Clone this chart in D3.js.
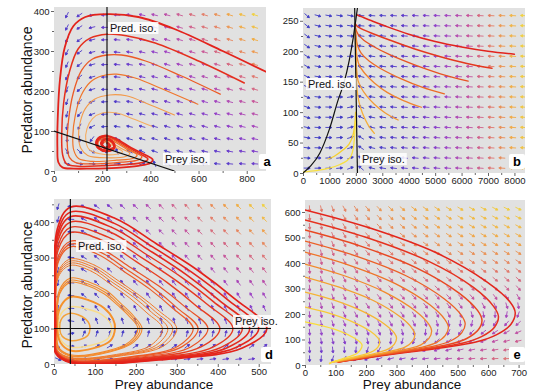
<!DOCTYPE html>
<html>
<head>
<meta charset="utf-8">
<script src="https://cdn.jsdelivr.net/npm/d3@7"></script>
<style>
  body { margin: 0; background: #fff; }
  text { font-family: "Liberation Sans", Arial, sans-serif; }
</style>
</head>
<body>
<svg id="chart" width="540" height="391"></svg>
<script>
// ---------- ticks ----------
const xTicksA = [0, 200, 400, 600, 800];
const yTicksA = [0, 100, 200, 300, 400];
const xTicksB = [0, 1000, 2000, 3000, 4000, 5000, 6000, 7000, 8000];
const yTicksB = [0, 50, 100, 150, 200, 250];
const xTicksD = [0, 100, 200, 300, 400, 500];
const yTicksD = [0, 100, 200, 300, 400];
const xTicksE = [0, 100, 200, 300, 400, 500, 600, 700];
const yTicksE = [0, 100, 200, 300, 400, 500, 600];

// ---------- model parameters for the direction fields ----------
const paramsA = [1, 500, 0.01, 0.003, 0.66];          // r, K, a, b, m
const paramsB = [1, 2060, 0.387, 0.02, 240, 1.9];      // r, K0, K slope, s, c, exponent
const paramsD = [1, 0.01, 0.01, 0.4];                  // r, a, b, m
const paramsE = [0.01, 0.175, 0.0029, 2.6];            // a, r, c, m

// ---------- isoclines ----------
const predIsoA = [[220, 0], [220, 410]];
const preyIsoA = [[0, 100], [500, 0]];
const predIsoB = [[0, 0], [300, 12], [640, 33], [1000, 72], [1330, 120], [1550, 148], [1750, 185], [1900, 222], [2000, 252], [2060, 271]];
const preyIsoB = [[2060, 0], [1955, 271]];
const predIsoD = [[40, 0], [40, 465]];
const preyIsoD = [[0, 100], [530, 100]];

// ---------- trajectories ----------
const trajA = [
  [[880,248],[700,300],[500,355],[350,385],[220,392],[130,385],[80,362],[45,310],[25,230],[16,140],[14,60],[18,22],[35,9],[80,6],[150,6],[260,8],[350,13],[400,20],[410,28],[380,40],[320,58],[260,80],[220,88],[185,82],[175,68],[190,55],[225,50],[250,58],[240,72],[215,75],[200,66],[215,58],[225,63]],
  [[790,220],[600,275],[420,320],[300,338],[220,342],[150,332],[100,305],[65,250],[40,170],[32,90],[36,40],[52,18],[100,12],[200,13],[300,16],[370,22],[390,30],[360,42],[300,62],[250,80],[215,86],[185,78],[180,62],[210,52],[245,58]],
  [[690,192],[520,240],[380,275],[280,290],[220,290],[160,280],[115,252],[80,195],[60,125],[55,68],[64,34],[90,21],[180,18],[280,22],[350,28],[365,36],[330,48],[280,66],[240,80],[205,82],[182,70],[195,54]],
  [[597,167],[450,205],[340,232],[260,242],[200,238],[150,222],[112,188],[88,138],[78,88],[82,52],[102,31],[160,24],[260,27],[330,32],[345,40],[310,52],[260,70],[225,80],[195,76]],
  [[500,140],[400,165],[300,188],[230,190],[170,180],[130,156],[108,120],[102,84],[112,56],[140,39],[220,33],[300,37],[315,44],[280,56],[240,70],[210,77]],
  [[406,112],[330,130],[260,145],[200,145],[160,131],[137,106],[132,77],[146,54],[190,43],[260,42],[285,48],[260,58],[230,68],[205,74]],
  [[220,88],[190,84],[176,70],[188,56],[222,50],[250,58],[244,72],[218,80],[196,70],[210,58],[232,62],[222,70]]
];
const trajAColor = ['#e3231c', '#e5301e', '#ec5a26', '#f0762c', '#f39a4a', '#f5ad62', '#e4261c'];
const trajAWidth = [1.8, 1.5, 1.3, 1.2, 1.1, 1.1, 2.6];

const trajB = [
  [[8000,195],[7000,200],[6000,207],[5000,216],[4000,228],[3200,240],[2600,250],[2200,257],[2030,260]],
  [[7150,172],[6200,180],[5200,191],[4200,204],[3300,218],[2700,228],[2300,235],[2050,241],[1980,245]],
  [[6250,151],[5200,163],[4200,178],[3300,194],[2700,207],[2300,218],[2080,228],[1990,238],[1975,244]],
  [[5350,130],[4500,141],[3700,155],[3000,170],[2500,184],[2200,197],[2060,210],[2000,228],[1978,242]],
  [[4480,108],[3800,119],[3200,132],[2700,148],[2350,163],[2120,178],[2030,195],[1990,225],[1980,240]],
  [[3600,87],[3100,99],[2700,113],[2400,127],[2200,140],[2080,152],[2030,170],[2000,200],[1982,235]],
  [[2700,65],[2450,80],[2250,98],[2110,118],[2040,140],[2010,170],[1990,210],[1980,235]],
  [[950,23],[1200,28],[1520,38],[1750,48],[1890,62],[1960,80],[1990,100]],
  [[0,2],[500,4],[1000,8],[1400,14],[1660,20],[1820,28],[1900,40],[1950,60],[1985,85]]
];
const trajBColor = ['#e2231d', '#e4381f', '#e85223', '#ec6a27', '#f08430', '#f39a36', '#f5ae3a', '#f6d030', '#f8e040'];

const loopsD = [
  [[40,143],[59,139],[76,128],[86,113],[88,100],[83,81],[64,69],[40,66],[20,78],[14,100],[20,130]],
  [[40,161],[80,155],[116,140],[136,118],[141,100],[131,71],[91,53],[40,48],[18,66],[10,100],[18,143]],
  [[40,189],[84,180],[122,158],[144,127],[149,100],[138,66],[95,44],[40,38],[16,60],[8,100],[16,162]],
  [[40,230],[81,221],[122,198],[156,165],[185,133],[205,100],[185,63],[131,37],[40,26],[11,48],[8,100],[14,198]],
  [[40,236],[82,226],[125,202],[159,168],[190,134],[210,100],[190,62],[134,35],[40,24],[10,47],[7,100],[14,202]],
  [[40,242],[84,232],[128,207],[163,171],[194,136],[215,100],[194,61],[136,34],[40,22],[9,45],[6,100],[13,207]],
  [[40,278],[92,261],[138,225],[185,186],[227,144],[265,100],[237,53],[153,27],[40,18],[8,40],[6,100],[11,246]],
  [[40,284],[95,267],[144,229],[194,189],[238,146],[278,100],[248,52],[159,26],[40,17],[8,39],[6,100],[11,251]],
  [[40,290],[98,272],[149,233],[202,192],[248,147],[290,100],[259,52],[165,25],[40,16],[7,39],[5,100],[11,256]],
  [[40,296],[100,278],[154,237],[208,194],[257,149],[300,100],[268,51],[170,24],[40,15],[7,38],[5,100],[11,261]],
  [[40,330],[109,308],[171,261],[234,211],[290,157],[340,100],[303,50],[190,21],[40,12],[7,36],[5,100],[11,289]],
  [[40,338],[112,316],[177,267],[242,215],[300,159],[352,100],[313,49],[196,20],[40,11],[7,35],[5,100],[11,295]],
  [[40,346],[117,323],[187,272],[257,219],[320,161],[376,100],[334,48],[208,19],[40,10],[6,34],[4,100],[10,302]],
  [[40,370],[124,345],[200,289],[276,230],[344,167],[405,100],[359,48],[223,18],[40,9],[6,34],[4,100],[10,321]],
  [[40,385],[131,358],[214,300],[296,237],[371,171],[437,100],[387,47],[239,18],[40,8],[6,33],[4,100],[10,334]],
  [[40,400],[137,372],[224,310],[311,245],[390,175],[460,100],[408,47],[250,17],[40,7],[5,32],[3,100],[9,346]],
  [[40,415],[141,385],[232,321],[323,252],[405,178],[478,100],[423,46],[259,16],[40,6],[5,31],[3,100],[9,358]],
  [[40,428],[146,397],[241,330],[337,258],[423,182],[500,100],[443,46],[270,15],[40,5],[5,31],[3,100],[9,369]],
  [[40,442],[150,410],[250,339],[350,265],[440,185],[520,100],[460,45],[280,14],[40,4],[4,30],[2,100],[8,380]]
];
const loopsDColor = ['#f3a23a', '#f8dc8c', '#f5922c', '#f38a2c', '#f38a2c', '#f38a2c', '#f07a2c', '#f07a2c', '#f07a2c', '#f07a2c',
  '#ec5e28', '#ec5a27', '#ea5226', '#e63f22', '#e63a21', '#e53420', '#e42a1e', '#e4261c', '#e3221b'];
const loopsDWidth = [1.5, 1.5, 2, 1.1, 1.1, 1.1, 1, 1, 1, 1, 1.2, 1.2, 1.2, 1.4, 1.4, 1.4, 1.6, 1.6, 1.7];

const trajE = [
  [[0,608],[213,537],[432,439],[597,325],[672,247],[689,205],[675,160],[630,120],[560,90],[450,68],[350,52],[250,36],[170,22],[110,12]],
  [[0,569],[197,502],[399,410],[552,304],[618,230],[634,190],[621,148],[580,112],[515,85],[420,66],[330,51],[240,36],[165,22],[110,12]],
  [[0,529],[180,467],[365,381],[505,282],[566,213],[580,176],[568,138],[530,104],[470,80],[390,63],[310,49],[230,35],[160,22],[108,12]],
  [[0,486],[163,429],[331,350],[457,259],[512,196],[525,162],[514,127],[480,96],[425,75],[355,60],[285,47],[215,34],[155,22],[105,12]],
  [[0,443],[146,391],[296,319],[409,236],[458,179],[470,148],[460,116],[430,88],[380,69],[320,56],[260,44],[200,32],[150,22],[105,13]],
  [[0,396],[129,350],[261,286],[361,213],[405,161],[415,134],[406,104],[380,79],[336,63],[285,51],[235,41],[185,31],[140,22],[100,13]],
  [[0,345],[112,305],[227,251],[313,188],[351,144],[360,120],[352,93],[329,71],[292,57],[250,46],[205,37],[165,28],[125,19],[95,12]],
  [[0,286],[93,255],[189,210],[261,160],[293,125],[300,106],[293,82],[274,63],[243,50],[210,40],[175,32],[140,24],[110,17],[88,10]],
  [[0,227],[76,204],[154,170],[213,133],[239,106],[245,92],[239,70],[224,55],[199,43],[170,34],[140,26],[115,19],[95,13],[82,8]],
  [[0,169],[58,153],[118,131],[163,105],[182,88],[187,78],[182,60],[171,46],[152,36],[130,27],[110,19],[95,13],[85,8],[80,5]]
];
const trajEColor = ['#e3261c', '#e5321f', '#e84822', '#ec6026', '#ef7428', '#f28a2c', '#f4a030', '#f6b434', '#f8c838', '#fadc3c'];

// arrow colour ramp (low -> high speed)
const arrowRamp = ['#3a3ac4', '#6438cc', '#9a3fc6', '#c4509e', '#e27868', '#f0a444', '#f0d040'];

// ---------- panels ----------
const panels = [
  { key: 'a', box: [54, 7, 266, 171], xDomain: [0, 880], yDomain: [0, 410], xTicks: xTicksA, yTicks: yTicksA,
    field: (N, P) => { const [r, K, a, b, m] = paramsA; return [r * N * (1 - N / K) - a * N * P, b * N * P - m * P]; },
    grid: [54, 52, 18, 31], gamma: 1, traj: trajA, colors: trajAColor, widths: trajAWidth, closed: false,
    iso: [predIsoA, preyIsoA],
    labels: [{ t: 'Pred. iso.', x: 110, y: 32 }, { t: 'Prey iso.', x: 165, y: 163 }], tag: [267, 163] },
  { key: 'b', box: [303, 8, 525, 173], xDomain: [0, 8400], yDomain: [0, 271], xTicks: xTicksB, yTicks: yTicksB,
    field: (N, P) => { const [r, K0, ks, s, c, e] = paramsB; const K = K0 - ks * P;
      return [r * N * (1 - N / K), s * (c * Math.pow(N / 2000, e) - P)]; },
    grid: [150, 410, 8, 16.7], gamma: 1, traj: trajB, colors: trajBColor, widths: trajBColor.map((d, i) => i < 2 ? 1.5 : 1.3), closed: false,
    iso: [predIsoB, preyIsoB],
    labels: [{ t: 'Pred. iso.', x: 308, y: 88 }, { t: 'Prey iso.', x: 362, y: 163 }], tag: [517, 163] },
  { key: 'd', box: [54, 199, 271, 364], xDomain: [0, 530], yDomain: [0, 465], xTicks: xTicksD, yTicks: yTicksD,
    field: (N, P) => { const [r, a, b, m] = paramsD; return [N * (r - a * P), P * (b * N - m)]; },
    grid: [10, 31.5, 14, 35.8], gamma: 1, traj: loopsD, colors: loopsDColor, widths: loopsDWidth, closed: true,
    iso: [predIsoD, preyIsoD],
    labels: [{ t: 'Pred. iso.', x: 78, y: 250 }, { t: 'Prey iso.', x: 235, y: 325 }], tag: [269, 356] },
  { key: 'e', box: [305, 200, 525, 365], xDomain: [0, 721], yDomain: [0, 647], xTicks: xTicksE, yTicks: yTicksE,
    field: (N, P) => { const [a, r, c, m] = paramsE; return [N * (a * P - r - c * N), -m * P]; },
    grid: [15, 38, 25, 34.6], gamma: 0.5, traj: trajE, colors: trajEColor, widths: trajEColor.map((d, i) => i < 3 ? 1.5 : 1.3), closed: false,
    iso: [], labels: [], tag: [517, 356] }
];

const svg = d3.select('#chart');
const defs = svg.append('defs');
const colorScale = d3.scaleLinear()
  .domain(arrowRamp.map((d, i) => i / (arrowRamp.length - 1)))
  .range(arrowRamp)
  .clamp(true);

function arrowPath(cx, cy, vx, vy, len) {
  const n = Math.hypot(vx, vy) || 1;
  const ux = vx / n, uy = vy / n;
  const x1 = cx - ux * len / 2, y1 = cy - uy * len / 2;
  const x2 = cx + ux * len / 2, y2 = cy + uy * len / 2;
  const hx = x2 - ux * 2.2, hy = y2 - uy * 2.2;
  const px = -uy * 1.2, py = ux * 1.2;
  return `M${x1},${y1}L${hx},${hy}M${hx + px},${hy + py}L${x2},${y2}L${hx - px},${hy - py}Z`;
}

panels.forEach(p => {
  const [x0, y0, x1, y1] = p.box;
  const x = d3.scaleLinear().domain(p.xDomain).range([x0, x1]);
  const y = d3.scaleLinear().domain(p.yDomain).range([y1, y0]);
  const g = svg.append('g');

  defs.append('clipPath').attr('id', 'clip-' + p.key)
    .append('rect').attr('x', x0).attr('y', y0).attr('width', x1 - x0).attr('height', y1 - y0);

  g.append('rect')
    .attr('x', x0).attr('y', y0)
    .attr('width', x1 - x0).attr('height', y1 - y0)
    .attr('fill', '#e1e1e1');

  // direction field
  const [cs, cst, rs, rst] = p.grid;
  const kx = x(1) - x(0), ky = y(0) - y(1);
  const arrows = [];
  d3.range(cs, p.xDomain[1], cst).forEach(N => {
    d3.range(rs, p.yDomain[1], rst).forEach(P => {
      const [dN, dP] = p.field(N, P);
      const vx = dN * kx, vy = -dP * ky;
      arrows.push({ N, P, vx, vy, mag: Math.hypot(vx, vy) });
    });
  });
  const maxMag = d3.max(arrows, d => d.mag);
  const col = d => colorScale(Math.pow(d.mag / maxMag, p.gamma));
  g.append('g').attr('clip-path', `url(#clip-${p.key})`)
    .selectAll('path').data(arrows).join('path')
    .attr('d', d => arrowPath(x(d.N), y(d.P), d.vx, d.vy, 6.5))
    .attr('stroke', col)
    .attr('fill', col)
    .attr('stroke-width', 0.9);

  // trajectories
  const line = d3.line().x(d => x(d[0])).y(d => y(d[1]))
    .curve(p.closed ? d3.curveCatmullRomClosed.alpha(0.5) : d3.curveCatmullRom.alpha(0.5));
  const tg = g.append('g').attr('clip-path', `url(#clip-${p.key})`).attr('fill', 'none');
  p.traj.forEach((t, i) => {
    tg.append('path').attr('d', line(t))
      .attr('stroke', p.colors[i]).attr('stroke-width', p.widths[i])
      .attr('stroke-linejoin', 'round').attr('stroke-linecap', 'round');
  });

  // isoclines
  const isoLine = d3.line().x(d => x(d[0])).y(d => y(d[1])).curve(d3.curveMonotoneX);
  p.iso.forEach(iso => {
    g.append('path').attr('d', isoLine(iso))
      .attr('fill', 'none').attr('stroke', '#111').attr('stroke-width', 1.2)
      .attr('clip-path', `url(#clip-${p.key})`);
  });

  // isocline labels
  p.labels.forEach(l => {
    const t = g.append('text').attr('x', l.x).attr('y', l.y)
      .attr('font-size', 11).attr('fill', '#111').text(l.t);
    const bb = t.node().getBBox();
    g.insert('rect', () => t.node())
      .attr('x', bb.x - 2).attr('y', bb.y).attr('width', bb.width + 4).attr('height', bb.height)
      .attr('fill', '#fff').attr('opacity', 0.85);
  });

  // panel tag
  g.append('rect').attr('x', p.tag[0] - 8).attr('y', p.tag[1] - 9).attr('width', 16).attr('height', 15)
    .attr('rx', 2).attr('fill', '#fff');
  g.append('text').attr('x', p.tag[0]).attr('y', p.tag[1] + 3)
    .attr('text-anchor', 'middle').attr('font-size', 13).attr('font-weight', 'bold').text(p.key);

  // axes (major + minor ticks)
  const xStep = p.xTicks[1] - p.xTicks[0], yStep = p.yTicks[1] - p.yTicks[0];
  const xMinor = d3.range(xStep / 2, p.xDomain[1], xStep);
  const yMinor = d3.range(yStep / 2, p.yDomain[1], yStep);
  g.append('g').attr('transform', `translate(0,${y1})`)
    .call(d3.axisBottom(x).tickValues(xMinor).tickSize(2).tickFormat(''))
    .call(a => a.select('.domain').remove());
  g.append('g').attr('transform', `translate(${x0},0)`)
    .call(d3.axisLeft(y).tickValues(yMinor).tickSize(2).tickFormat(''))
    .call(a => a.select('.domain').remove());
  const xa = g.append('g').attr('transform', `translate(0,${y1})`)
    .call(d3.axisBottom(x).tickValues(p.xTicks).tickSize(3).tickPadding(1.5).tickFormat(d3.format('d')));
  const ya = g.append('g').attr('transform', `translate(${x0},0)`)
    .call(d3.axisLeft(y).tickValues(p.yTicks).tickSize(3).tickPadding(1.5).tickFormat(d3.format('d')));
  [xa, ya].forEach(a => {
    a.select('.domain').remove();
    a.selectAll('text').attr('font-size', 9.5).attr('fill', '#222')
      .style('font-family', '"Liberation Sans", Arial, sans-serif');
  });
  g.selectAll('.tick line').attr('stroke', '#666');
});

// axis titles
svg.append('text').attr('transform', 'translate(32,90) rotate(-90)')
  .attr('text-anchor', 'middle').attr('font-size', 14).attr('fill', '#111').text('Predator abundance');
svg.append('text').attr('transform', 'translate(32,285) rotate(-90)')
  .attr('text-anchor', 'middle').attr('font-size', 14).attr('fill', '#111').text('Predator abundance');
svg.append('text').attr('x', 164).attr('y', 389)
  .attr('text-anchor', 'middle').attr('font-size', 13.5).attr('fill', '#111').text('Prey abundance');
svg.append('text').attr('x', 412).attr('y', 389)
  .attr('text-anchor', 'middle').attr('font-size', 13.5).attr('fill', '#111').text('Prey abundance');
</script>
</body>
</html>
